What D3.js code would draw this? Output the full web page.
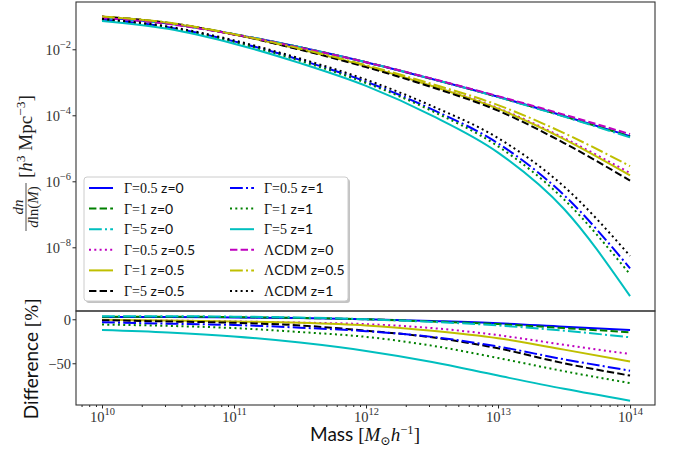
<!DOCTYPE html>
<html>
<head>
<meta charset="utf-8">
<script src="https://cdn.jsdelivr.net/npm/d3@7"></script>
<style>
  body { margin: 0; background: #fff; }
  svg { display: block; }
  .serif { font-family: "Liberation Serif", "DejaVu Serif", serif; }
  .sans { font-family: Lato, "Open Sans", sans-serif; }
</style>
</head>
<body>
<div id="chart"></div>
<script>
// log10 of halo mass [M_sun/h]
const logMass = [10, 10.5, 11, 11.5, 12, 12.5, 13, 13.5, 14];

// log10 of dn/dln(M) [h^3 Mpc^-3]
const g05z0   = [-1.04, -1.22, -1.54, -1.94, -2.39, -2.90, -3.44, -4.02, -4.63];
const g1z0    = [-1.04, -1.22, -1.54, -1.94, -2.39, -2.90, -3.44, -4.03, -4.64];
const g5z0    = [-1.04, -1.22, -1.54, -1.94, -2.39, -2.90, -3.45, -4.04, -4.67];
const g05z05  = [-1.01, -1.20, -1.55, -2.00, -2.50, -3.10, -3.78, -4.69, -5.75];
const g1z05   = [-1.01, -1.20, -1.55, -2.00, -2.51, -3.11, -3.80, -4.72, -5.82];
const g5z05   = [-1.01, -1.20, -1.55, -2.01, -2.54, -3.15, -3.86, -4.84, -5.98];
const g05z1   = [-1.10, -1.33, -1.76, -2.32, -2.98, -3.82, -4.85, -6.42, -8.64];
const g1z1    = [-1.11, -1.34, -1.78, -2.35, -3.02, -3.87, -4.94, -6.55, -8.82];
const g5z1    = [-1.14, -1.38, -1.83, -2.42, -3.11, -4.01, -5.13, -6.84, -9.48];
const lcdmz0  = [-1.05, -1.23, -1.55, -1.95, -2.39, -2.89, -3.42, -3.98, -4.57];
const lcdmz05 = [-1.01, -1.19, -1.54, -1.98, -2.48, -3.05, -3.69, -4.54, -5.54];
const lcdmz1  = [-1.08, -1.31, -1.73, -2.28, -2.92, -3.72, -4.69, -6.16, -8.26];

// difference to LCDM at the same z [%], lower panel
const dG05z0  = [2.5, 2.5, 2, 1.5, 0, -2, -4.5, -8.5, -12.2];
const dG1z0   = [3, 3, 2.5, 1.5, 0, -2.5, -5.5, -10, -14.8];
const dG5z0   = [3.5, 3.5, 3, 2, 0, -3, -7, -13, -20.5];
const dG05z05 = [-1, -1.5, -2.5, -3.8, -5.5, -10, -18, -29, -39.5];
const dG1z05  = [-0.5, -1.5, -2.5, -4, -7, -13, -21.5, -34.5, -48];
const dG5z05  = [-1, -2.5, -4, -7, -13, -20.5, -33, -50, -64];
const dG05z1  = [-3.5, -5, -6.5, -9.5, -13.5, -20, -31, -45.5, -58.4];
const dG1z1   = [-6, -7.5, -10, -14.5, -20, -30, -44, -59, -72.5];
const dG5z1   = [-12.2, -15, -19.5, -26.5, -36, -48.5, -64, -79, -92.5];

const xTickExp = [10, 11, 12, 13, 14];
const yTickExp = [-8, -6, -4, -2];
const diffTicks = [0, -50];

const C = { b: "#0000ff", g: "#008000", c: "#00bfbf", m: "#bf00bf", y: "#bfbf00", k: "#000000" };
const DASH = { solid: null, dashed: "7.4,3.2", dashdot: "12.8,3.2,2,3.2", dotted: "2,3.3" };

// legend order (column major, 2 columns)
const series = [
  { gam: "Γ=0.5", z: " z=0",   vals: g05z0,   diff: dG05z0,  color: C.b, dash: "solid" },
  { gam: "Γ=1",   z: " z=0",   vals: g1z0,    diff: dG1z0,   color: C.g, dash: "dashed" },
  { gam: "Γ=5",   z: " z=0",   vals: g5z0,    diff: dG5z0,   color: C.c, dash: "dashdot" },
  { gam: "Γ=0.5", z: " z=0.5", vals: g05z05,  diff: dG05z05, color: C.m, dash: "dotted" },
  { gam: "Γ=1",   z: " z=0.5", vals: g1z05,   diff: dG1z05,  color: C.y, dash: "solid" },
  { gam: "Γ=5",   z: " z=0.5", vals: g5z05,   diff: dG5z05,  color: C.k, dash: "dashed" },
  { gam: "Γ=0.5", z: " z=1",   vals: g05z1,   diff: dG05z1,  color: C.b, dash: "dashdot" },
  { gam: "Γ=1",   z: " z=1",   vals: g1z1,    diff: dG1z1,   color: C.g, dash: "dotted" },
  { gam: "Γ=5",   z: " z=1",   vals: g5z1,    diff: dG5z1,   color: C.c, dash: "solid" },
  { gam: "Λ", z: "CDM z=0",   vals: lcdmz0,  diff: null, color: C.m, dash: "dashed" },
  { gam: "Λ", z: "CDM z=0.5", vals: lcdmz05, diff: null, color: C.y, dash: "dashdot" },
  { gam: "Λ", z: "CDM z=1",   vals: lcdmz1,  diff: null, color: C.k, dash: "dotted" }
];

const width = 683, height = 456;
const pLeft = 76, pRight = 655, pTop = 2, pMid = 311, pBottom = 405;

const svg = d3.select("#chart").append("svg")
  .attr("width", width).attr("height", height);

const x = d3.scaleLog().domain([10 ** 9.803, 10 ** 14.189]).range([pLeft, pRight]);
const yTop = d3.scaleLog().domain([10 ** -9.93, 10 ** -0.567]).range([pMid, pTop]);
const yBot = d3.scaleLinear().domain([-97.4, 9.4]).range([pBottom, pMid]);

const lineTop = d3.line()
  .x((d, i) => x(10 ** logMass[i]))
  .y(d => yTop(10 ** d))
  .curve(d3.curveMonotoneX);
const lineBot = d3.line()
  .x((d, i) => x(10 ** logMass[i]))
  .y(d => yBot(d))
  .curve(d3.curveMonotoneX);

function styleLine(sel, s) {
  sel.attr("fill", "none")
    .attr("stroke", s.color)
    .attr("stroke-width", 2)
    .attr("stroke-dasharray", DASH[s.dash]);
}

// curves
const gTop = svg.append("g");
series.forEach(s => {
  gTop.append("path").attr("d", lineTop(s.vals)).call(styleLine, s);
});
const gBot = svg.append("g");
series.filter(s => s.diff).forEach(s => {
  gBot.append("path").attr("d", lineBot(s.diff)).call(styleLine, s);
});

// axes
function supLabel(text, base, exp, size) {
  text.append("tspan").text(base);
  text.append("tspan").attr("dy", -size * 0.45).attr("font-size", size * 0.72).text(exp);
}

const yAxisTop = svg.append("g")
  .attr("transform", `translate(${pLeft},0)`)
  .call(d3.axisLeft(yTop).tickValues(yTickExp.map(e => 10 ** e)).tickSize(3.5).tickFormat(""));
yAxisTop.select(".domain").remove();
yAxisTop.selectAll(".tick").each(function (d) {
  const t = d3.select(this).append("text")
    .attr("class", "serif").attr("x", -5).attr("y", 5)
    .attr("text-anchor", "end").attr("fill", "#333").attr("font-size", 14.5);
  supLabel(t, "10", "−" + Math.abs(Math.round(Math.log10(d))), 14.5);
});

const yAxisBot = svg.append("g")
  .attr("transform", `translate(${pLeft},0)`)
  .call(d3.axisLeft(yBot).tickValues(diffTicks).tickSize(3.5).tickFormat(""));
yAxisBot.select(".domain").remove();
yAxisBot.selectAll(".tick").append("text")
  .attr("class", "serif").attr("x", -5).attr("y", 5)
  .attr("text-anchor", "end").attr("fill", "#333").attr("font-size", 14.5)
  .text(d => d < 0 ? "−" + Math.abs(d) : d);

const minor = [];
for (let e = 9; e <= 14; e++) for (let k = 2; k <= 9; k++) {
  const v = k * 10 ** e;
  if (v >= x.domain()[0] && v <= x.domain()[1]) minor.push(v);
}
const xMinor = svg.append("g")
  .attr("transform", `translate(0,${pBottom})`)
  .call(d3.axisBottom(x).tickValues(minor).tickSize(2).tickFormat(""));
xMinor.select(".domain").remove();

const xAxis = svg.append("g")
  .attr("transform", `translate(0,${pBottom})`)
  .call(d3.axisBottom(x).tickValues(xTickExp.map(e => 10 ** e)).tickSize(3.5).tickFormat(""));
xAxis.select(".domain").remove();
xAxis.selectAll(".tick").each(function (d) {
  const t = d3.select(this).append("text")
    .attr("class", "serif").attr("y", 17)
    .attr("text-anchor", "middle").attr("fill", "#333").attr("font-size", 14.5);
  supLabel(t, "10", String(Math.round(Math.log10(d))), 14.5);
});
svg.selectAll(".tick line").attr("stroke", "#222");

// frames
svg.append("rect").attr("x", pLeft).attr("y", pTop).attr("width", pRight - pLeft).attr("height", pMid - pTop)
  .attr("fill", "none").attr("stroke", "#333").attr("stroke-width", 1.1);
svg.append("rect").attr("x", pLeft).attr("y", pMid).attr("width", pRight - pLeft).attr("height", pBottom - pMid)
  .attr("fill", "none").attr("stroke", "#333").attr("stroke-width", 1.1);

// legend
const lg = svg.append("g");
lg.append("rect").attr("x", 86).attr("y", 179).attr("width", 264).attr("height", 124).attr("rx", 3)
  .attr("fill", "#888").attr("opacity", 0.5);
lg.append("rect").attr("x", 84).attr("y", 177).attr("width", 264).attr("height", 124).attr("rx", 3)
  .attr("fill", "#fff").attr("stroke", "#ccc").attr("stroke-width", 1);
series.forEach((s, i) => {
  const col = Math.floor(i / 6), row = i % 6;
  const lx = col ? 230 : 89, tx = col ? 264 : 124;
  const cy = 188 + row * 20.6;
  lg.append("line").attr("x1", lx).attr("x2", lx + 24).attr("y1", cy).attr("y2", cy).call(styleLine, s);
  const t = lg.append("text").attr("x", tx).attr("y", cy + 5).attr("font-size", 14).attr("fill", "#111");
  t.append("tspan").attr("class", "serif").text(s.gam);
  t.append("tspan").attr("class", "sans").text(s.z);
});

// axis labels
const yl = svg.append("g").attr("transform", "translate(26,157) rotate(-90)").attr("fill", "#222");
const br = yl.append("text").attr("class", "serif").attr("x", -21).attr("y", 6).attr("font-size", 19);
br.append("tspan").text("[");
br.append("tspan").attr("font-style", "italic").text("h");
br.append("tspan").attr("dy", -7).attr("font-size", 13.5).text("3");
br.append("tspan").attr("dy", 7).text(" Mpc");
br.append("tspan").attr("dy", -7).attr("font-size", 13.5).text("−3");
br.append("tspan").attr("dy", 7).text("]");
yl.append("text").attr("class", "serif").attr("x", -50).attr("y", -3).attr("text-anchor", "middle")
  .attr("font-size", 15).attr("font-style", "italic").text("dn");
yl.append("line").attr("x1", -74).attr("x2", -26).attr("y1", 0).attr("y2", 0).attr("stroke", "#222").attr("stroke-width", 0.8);
const den = yl.append("text").attr("class", "serif").attr("x", -50).attr("y", 12).attr("text-anchor", "middle").attr("font-size", 15);
den.append("tspan").attr("font-style", "italic").text("d");
den.append("tspan").text("ln(");
den.append("tspan").attr("font-style", "italic").text("M");
den.append("tspan").text(")");

const dl = svg.append("text").attr("transform", "translate(38,359) rotate(-90)")
  .attr("text-anchor", "middle").attr("font-size", 19).attr("fill", "#111");
dl.append("tspan").attr("class", "sans").text("Difference ");
dl.append("tspan").attr("class", "serif").text("[%]");

const ml = svg.append("text").attr("x", 365).attr("y", 441).attr("text-anchor", "middle")
  .attr("font-size", 19).attr("fill", "#111");
ml.append("tspan").attr("class", "sans").text("Mass ");
ml.append("tspan").attr("class", "serif").text("[");
ml.append("tspan").attr("class", "serif").attr("font-style", "italic").text("M");
ml.append("tspan").attr("class", "serif").attr("dy", 4).attr("font-size", 12.5).text("⊙");
ml.append("tspan").attr("class", "serif").attr("dy", -4).attr("font-style", "italic").text("h");
ml.append("tspan").attr("class", "serif").attr("dy", -7).attr("font-size", 12.5).text("−1");
ml.append("tspan").attr("class", "serif").attr("dy", 7).text("]");
</script>
</body>
</html>
